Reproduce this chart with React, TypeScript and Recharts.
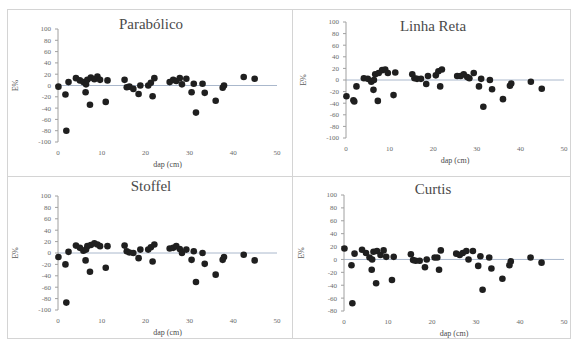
import React from "react";
import { ScatterChart, Scatter, XAxis, YAxis, ReferenceLine } from "recharts";

// dap (cm) of each tree
const dap = [
  0.1, 1.7, 1.9, 2.4, 4.1, 5.0, 5.8, 6.3, 6.4, 6.7, 7.3, 7.5, 8.3, 9.0, 9.6,
  10.9, 11.3, 15.2, 15.7, 16.3, 17.2, 18.4, 18.8, 20.6, 21.2, 21.6, 22.0, 25.5,
  26.3, 27.0, 27.8, 28.3, 29.3, 30.5, 31.0, 31.5, 33.0, 33.5, 36.0, 37.6, 37.9,
  42.4, 44.9,
];

// residuals E% per model
const resParabolico = [
  -2, -16, -80, 6, 13, 9, 6, -12, 2, 10, -34, 14, 11, 16, 10, -29, 9, 10, -3, -2,
  -6, -15, 0, 0, 5, -19, 13, 6, 10, 8, 13, 2, 12, -12, 3, -48, 3, -13, -27, -4, 0,
  15, 12,
];
const resLinhaReta = [
  -28, -35, -37, -11, 3, 2, -3, -17, 0, 10, -36, 12, 17, 18, 12, -26, 13, 10, 3, 2,
  2, -7, 7, 8, 15, -11, 18, 7, 7, 10, 5, 3, 12, -11, 2, -46, 0, -16, -33, -10, -6,
  -3, -15,
];
const resStoffel = [
  -7, -20, -87, 2, 13, 9, 4, -13, 6, 12, -33, 14, 17, 15, 12, -26, 12, 13, 3, 1,
  0, -9, 6, 6, 10, -15, 15, 8, 9, 12, 7, 0, 6, -12, 3, -51, 0, -19, -38, -12, -7,
  -3, -13,
];
const resCurtis = [
  17, -9, -68, 9, 15, 10, 3, -16, 0, 12, -37, 13, 7, 14, 4, -32, 4, 8, -1, -2, -2,
  -12, 0, 3, 3, -16, 14, 9, 7, 10, 13, 0, 13, -10, 5, -47, 3, -14, -30, -9, -3, 3,
  -5,
];

const xTicks = [0, 10, 20, 30, 40, 50];
const yTicksFull = [-100, -80, -60, -40, -20, 0, 20, 40, 60, 80, 100];
const yTicksCurtis = [-80, -60, -40, -20, 0, 20, 40, 60, 80, 100];

const SERIF = "'Liberation Serif', 'DejaVu Serif', serif";

type PanelProps = {
  title: string;
  values: number[];
  left: number;
  top: number;
  width: number;
  height: number;
  margin: { top: number; right: number; bottom: number; left: number };
  yDomain: [number, number];
  yTicks: number[];
  titleX: number;
  titleY: number;
};

const Dot = (props: any) => (
  <circle cx={props.cx} cy={props.cy} r={3.3} fill="#1f1f1f" />
);

function Panel(p: PanelProps) {
  const data = dap.map((d, i) => ({ x: d, y: p.values[i] }));
  return (
    <div
      style={{
        position: "absolute",
        left: p.left,
        top: p.top,
        width: p.width,
        height: p.height,
        boxSizing: "border-box",
        border: "1px solid #d4d4d4",
      }}
    >
      <div
        style={{
          position: "absolute",
          left: p.titleX - 80,
          width: 160,
          top: p.titleY - 9,
          textAlign: "center",
          fontFamily: SERIF,
          fontSize: 15,
          color: "#4a4a4a",
          lineHeight: "18px",
          zIndex: 2,
        }}
      >
        {p.title}
      </div>
      <div style={{ position: "absolute", left: -1, top: -1 }}>
        <ScatterChart width={p.width} height={p.height} margin={p.margin}>
          <XAxis
            type="number"
            dataKey="x"
            domain={[0, 50]}
            ticks={xTicks}
            interval={0}
            axisLine={false}
            tickLine={false}
            height={20}
            tick={{ fontSize: 7, fill: "#6a6a6a", fontFamily: SERIF }}
            label={{
              value: "dap (cm)",
              position: "bottom",
              offset: -1,
              fill: "#4a4a4a",
              style: { fontSize: 8, fill: "#4a4a4a", fontFamily: SERIF },
            }}
          />
          <YAxis
            type="number"
            dataKey="y"
            domain={p.yDomain}
            ticks={p.yTicks}
            interval={0}
            width={30}
            stroke="#a0a0a0"
            tickSize={3}
            tickMargin={4}
            tick={{ fontSize: 7, fill: "#6a6a6a", fontFamily: SERIF }}
            label={{
              value: "E%",
              angle: -90,
              position: "insideLeft",
              offset: -13,
              fill: "#5a5a5a",
              style: {
                fontSize: 8,
                fill: "#5a5a5a",
                fontFamily: SERIF,
                textAnchor: "middle",
              },
            }}
          />
          <ReferenceLine y={0} stroke="#aab8cc" strokeWidth={1} />
          <Scatter data={data} shape={Dot} isAnimationActive={false} />
        </ScatterChart>
      </div>
    </div>
  );
}

export default function App() {
  return (
    <div
      style={{
        position: "absolute",
        left: 0,
        top: 0,
        width: 577,
        height: 343,
        background: "#ffffff",
        overflow: "hidden",
      }}
    >
      <Panel
        title="Parabólico"
        values={resParabolico}
        left={7}
        top={9}
        width={286}
        height={168}
        margin={{ top: 20, right: 16, bottom: 15, left: 21 }}
        yDomain={[-100, 100]}
        yTicks={yTicksFull}
        titleX={143}
        titleY={14}
      />
      <Panel
        title="Linha Reta"
        values={resLinhaReta}
        left={292}
        top={9}
        width={279}
        height={168}
        margin={{ top: 13, right: 7, bottom: 19, left: 24 }}
        yDomain={[-100, 100]}
        yTicks={yTicksFull}
        titleX={140}
        titleY={16}
      />
      <Panel
        title="Stoffel"
        values={resStoffel}
        left={7}
        top={176}
        width={286}
        height={163}
        margin={{ top: 20, right: 16, bottom: 9, left: 21 }}
        yDomain={[-100, 100]}
        yTicks={yTicksFull}
        titleX={143}
        titleY={9}
      />
      <Panel
        title="Curtis"
        values={resCurtis}
        left={292}
        top={176}
        width={279}
        height={163}
        margin={{ top: 19, right: 7, bottom: 8, left: 22 }}
        yDomain={[-80, 100]}
        yTicks={yTicksCurtis}
        titleX={140}
        titleY={12}
      />
    </div>
  );
}
